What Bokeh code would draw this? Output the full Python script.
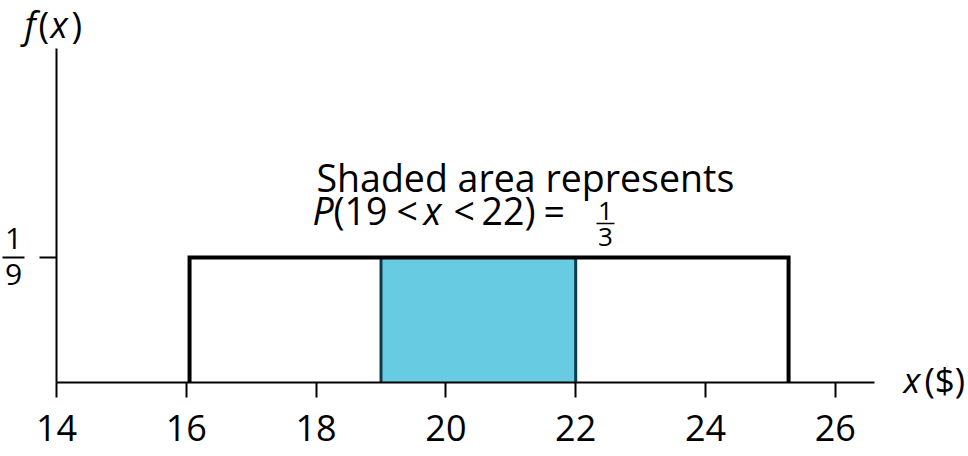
from bokeh.plotting import figure
from bokeh.models import LinearAxis, FixedTicker, Label
from bokeh.embed import file_html
from bokeh.resources import INLINE

# ---- data ----
x_ticks = [14, 16, 18, 20, 22, 24, 26]
y_ticks = [1 / 9]
dist_low, dist_high = 16.05, 25.28      # drawn edges of the uniform density
density = 1 / 9
shade_low, shade_high = 19, 22
x_axis_end = 26.6

# ---- layout (pixel mapping) ----
W, H = 968, 456
PX_PER_X = 64.9
X0_PX = 56          # pixel column of x = 14
Y0_PX = 382         # pixel row of y = 0
PX_PER_Y = 125 * 9  # 125 px for 1/9

x_start = 14 - X0_PX / PX_PER_X
x_end = x_start + W / PX_PER_X
y_start = -(H - Y0_PX) / PX_PER_Y
y_end = Y0_PX / PX_PER_Y


def X(px):
    return x_start + px / PX_PER_X


def Y(py):
    return (Y0_PX - py) / PX_PER_Y


FONT = "Open Sans"
BASE_K = 0.4   # empirical shift of the label anchor relative to the baseline

p = figure(width=W, height=H, x_range=(x_start, x_end), y_range=(y_start, y_end),
           x_axis_type=None, y_axis_type=None, output_backend="svg",
           toolbar_location=None, min_border=0)
p.outline_line_color = None
p.background_fill_color = "white"
p.border_fill_color = "white"

# axes
xaxis = LinearAxis(fixed_location=0, bounds=(14, x_axis_end),
                   ticker=FixedTicker(ticks=x_ticks, minor_ticks=[]))
xaxis.axis_line_width = 2
xaxis.axis_line_color = "black"
xaxis.major_tick_line_width = 2
xaxis.major_tick_out = 15
xaxis.major_tick_in = 0
xaxis.minor_tick_out = 0
xaxis.major_label_text_font = FONT
xaxis.major_label_text_font_size = "36px"
xaxis.major_label_text_color = "black"
xaxis.major_label_standoff = 17
p.add_layout(xaxis, "below")

yaxis = LinearAxis(fixed_location=14, bounds=(0, Y(48)),
                   ticker=FixedTicker(ticks=y_ticks, minor_ticks=[]))
yaxis.axis_line_width = 2
yaxis.axis_line_color = "black"
yaxis.major_tick_line_width = 2
yaxis.major_tick_out = 17
yaxis.major_tick_in = 0
yaxis.minor_tick_out = 0
yaxis.major_label_overrides = {y_ticks[0]: ""}
p.add_layout(yaxis, "left")

# shaded region
p.quad(left=[shade_low], right=[shade_high], bottom=[0], top=[density],
       fill_color="#67cce2", line_color=None)
p.segment(x0=[shade_low, shade_high], y0=[0, 0], x1=[shade_low, shade_high],
          y1=[density, density], line_color="#0d3c4b", line_width=3)

# density outline
p.line(x=[dist_low, dist_low, dist_high, dist_high], y=[0, density, density, 0],
       line_color="black", line_width=4, line_join="miter")


def lab(text, px, baseline_py, size, italic=False, align="left"):
    py = baseline_py - BASE_K * size
    p.add_layout(Label(x=X(px), y=Y(py), text=text, text_font=FONT,
                       text_font_size=f"{size}px", text_color="black",
                       text_font_style="italic" if italic else "normal",
                       text_align=align, text_baseline="alphabetic"))


# y tick label as fraction 1/9
lab("1", 13, 250, 30, align="center")
lab("9", 13, 286, 30, align="center")
p.segment(x0=[X(2)], y0=[y_ticks[0]], x1=[X(24)], y1=[y_ticks[0]],
          line_color="black", line_width=2)

# axis titles
lab("f", 24, 38, 36, italic=True)
lab("(", 38, 38, 36)
lab("x", 50, 38, 36, italic=True)
lab(")", 71, 38, 36)

lab("x", 903, 393, 35, italic=True)
lab("($)", 924, 393, 35)

# annotation
A = 37.5
lab("Shaded area represents", 316, 192, A)
lab("P", 312, 225, A, italic=True)
lab("(19", 333, 225, A)
lab("<", 396, 225, A)
lab("x", 423, 225, A, italic=True)
lab("<", 453, 225, A)
lab("22)", 481, 225, A)
lab("=", 543, 225, A)
lab("1", 605, 221, 26, align="center")
lab("3", 605, 247, 26, align="center")
p.segment(x0=[X(596)], y0=[Y(223)], x1=[X(614)], y1=[Y(223)],
          line_color="black", line_width=1.5)

open("out.html", "w").write(file_html(p, INLINE))
